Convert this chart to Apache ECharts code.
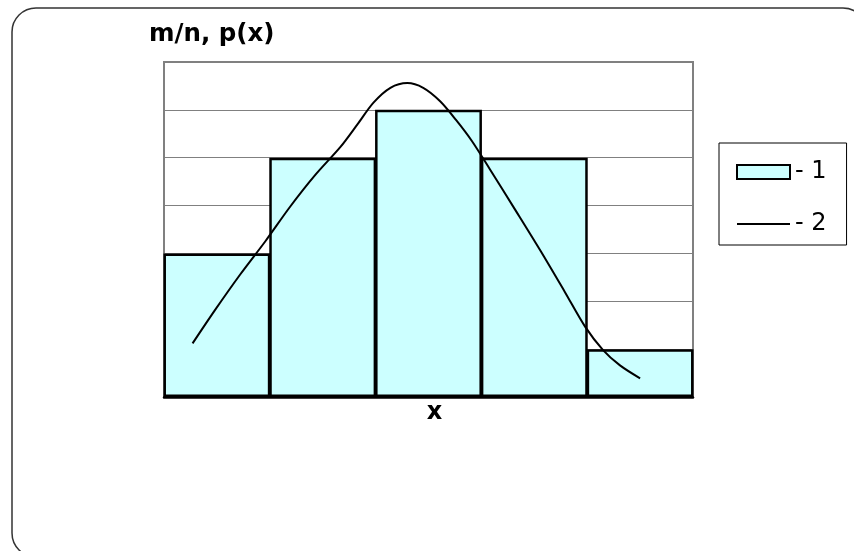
<!DOCTYPE html>
<html>
<head>
<meta charset="utf-8">
<script src="https://cdn.jsdelivr.net/npm/echarts@6/dist/echarts.min.js"></script>
<style>
  html, body { margin: 0; padding: 0; background: #fff; }
  #chart { width: 854px; height: 551px; }
</style>
</head>
<body>
<div id="chart"></div>
<script>
// 直方图数据（m/n）
const categories = ["1", "2", "3", "4", "5"];
const barValues = [3, 5, 6, 5, 1];
// 理论曲线 p(x)，横坐标以组为单位（0~5）
const curveX = [0.27, 0.48, 0.72, 0.96, 1.19, 1.43, 1.67, 1.83, 1.98, 2.14, 2.30, 2.45, 2.61, 2.76, 2.91, 3.08, 3.32, 3.56, 3.79, 3.98, 4.15, 4.31, 4.50];
const curveY = [1.12, 1.81, 2.56, 3.26, 3.97, 4.64, 5.23, 5.70, 6.15, 6.46, 6.56, 6.46, 6.18, 5.79, 5.35, 4.76, 3.91, 3.05, 2.19, 1.47, 0.98, 0.66, 0.39];
const yMax = 7;

const font = "DejaVu Sans";

let curveData = [];
for (let i = 0; i < curveX.length; i++) {
  curveData.push([curveX[i], curveY[i]]);
}

let chart = echarts.init(document.getElementById("chart"), null, { renderer: "canvas" });

let option = {
  backgroundColor: "#fff",
  animation: false,
  title: {
    text: "m/n, p(x)",
    left: 149,
    top: 22,
    padding: 0,
    textStyle: { fontFamily: font, fontWeight: "bold", fontSize: 24.5, color: "#000" },
  },
  legend: {
    orient: "vertical",
    left: 719,
    top: 143,
    padding: [17, 20, 9, 17],
    itemGap: 28,
    itemWidth: 53,
    itemHeight: 14,
    borderColor: "#000",
    borderWidth: 1,
    textStyle: { fontFamily: font, fontSize: 24, color: "#000" },
    data: [
      { name: "- 1", icon: "rect" },
      // 只保留线段，隐藏圆点
      { name: "- 2", itemStyle: { opacity: 0, color: "rgba(0,0,0,0)", borderWidth: 0 } },
    ],
  },
  graphic: [
    {
      // 外框（圆角，右下被裁掉）
      type: "rect",
      shape: { x: 12, y: 8, width: 855, height: 549, r: 24 },
      style: { fill: "none", stroke: "#333", lineWidth: 1.5 },
      silent: true,
    },
  ],
  grid: {
    left: 164,
    top: 62,
    right: 161,
    bottom: 154,
    show: true,
    borderColor: "#808080",
    borderWidth: 2,
  },
  xAxis: [
    {
      type: "category",
      data: categories,
      name: "x",
      nameLocation: "middle",
      nameGap: 4,
      nameTextStyle: {
        fontFamily: font,
        fontWeight: "bold",
        fontSize: 24,
        color: "#000",
        verticalAlign: "top",
        padding: [0, 0, 0, 12],
      },
      axisLine: { show: true, lineStyle: { color: "#000", width: 2.5 } },
      axisTick: { show: false },
      axisLabel: { show: false },
      splitLine: { show: false },
    },
    {
      type: "value",
      min: 0,
      max: 5,
      show: false,
    },
  ],
  yAxis: {
    type: "value",
    min: 0,
    max: yMax,
    interval: 1,
    axisLine: { show: false },
    axisTick: { show: false },
    axisLabel: { show: false },
    splitLine: { show: true, lineStyle: { color: "#808080", width: 1 } },
  },
  series: [
    {
      name: "- 1",
      type: "bar",
      xAxisIndex: 0,
      barWidth: "101%",
      itemStyle: { color: "#CCFFFF", borderColor: "#000", borderWidth: 2.5 },
      data: barValues,
    },
    {
      name: "- 2",
      type: "line",
      xAxisIndex: 1,
      smooth: 0.3,
      symbol: "none",
      lineStyle: { color: "#000", width: 2 },
      itemStyle: { color: "#000" },
      data: curveData,
      z: 5,
    },
  ],
};

chart.setOption(option);
</script>
</body>
</html>
